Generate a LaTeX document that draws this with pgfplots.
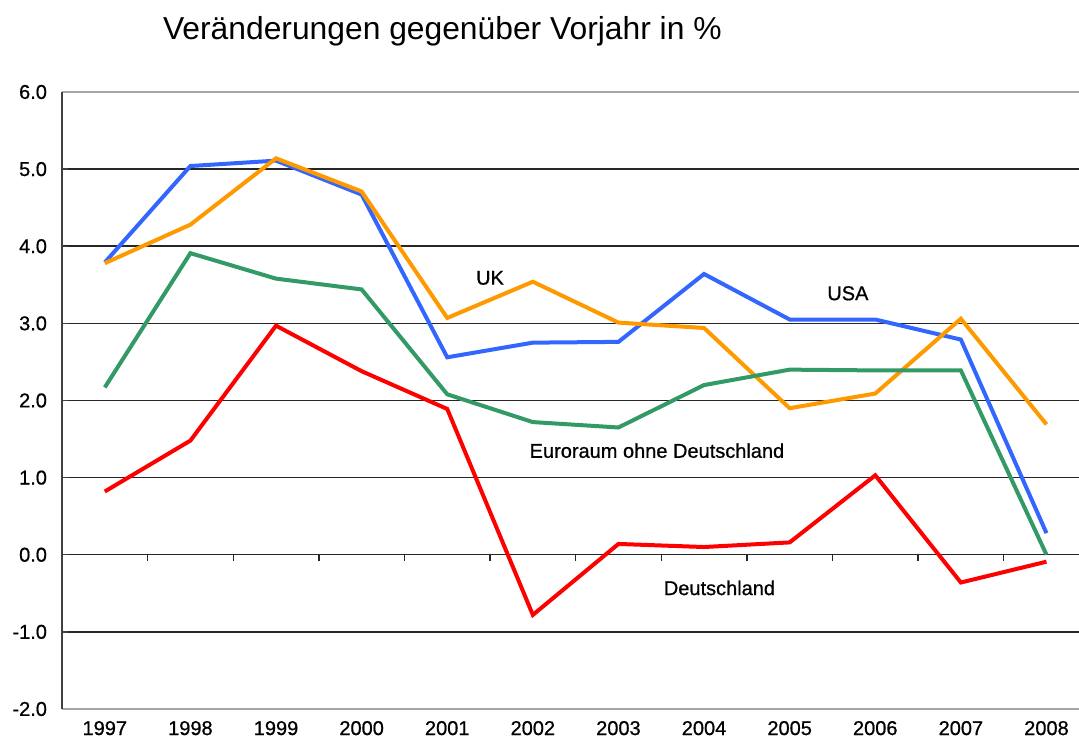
\documentclass[border=0pt]{standalone}
\usepackage{fontspec}
\setmainfont{Liberation Sans}
\newfontfamily\lblfont[FakeBold=0.7]{Liberation Sans}
\usepackage{pgfplots}
\pgfplotsset{compat=1.18}

\definecolor{cUSA}{RGB}{51,102,255}
\definecolor{cUK}{RGB}{255,153,0}
\definecolor{cEuro}{RGB}{51,153,102}
\definecolor{cDE}{RGB}{255,0,0}

\begin{document}
\begin{tikzpicture}
\begin{axis}[
	scale only axis,width=508.5pt,height=308.5pt,
	xmin=-0.5,xmax=11.38,ymin=-2,ymax=6,
	xtick={0,...,11},
	xticklabels={1997,1998,1999,2000,2001,2002,2003,2004,2005,2006,2007,2008},
	ytick={-2,-1,0,1,2,3,4,5,6},
	yticklabels={-2.0,-1.0,0.0,1.0,2.0,3.0,4.0,5.0,6.0},
	ymajorgrids,grid style={black!85,line width=0.75pt},
	axis line style={draw=none},
	x tick style={draw=none},
	y tick style={black!75,line width=0.7pt},
	major tick length=3pt,
	ytick pos=left,xtick pos=bottom,
	tick label style={font=\lblfont\fontsize{10}{12}\selectfont},
	xticklabel style={yshift=-2.5pt},
	yticklabel style={xshift=-4pt},
	clip=false]
\addplot[cUSA,line width=2pt] coordinates {(0,3.79) (1,5.04) (2,5.11) (3,4.67) (4,2.56) (5,2.75) (6,2.76) (7,3.64) (8,3.05) (9,3.05) (10,2.79) (11,0.28)};
\addplot[cUK,line width=2pt] coordinates {(0,3.78) (1,4.28) (2,5.14) (3,4.71) (4,3.07) (5,3.54) (6,3.01) (7,2.94) (8,1.90) (9,2.09) (10,3.06) (11,1.69)};
\addplot[cEuro,line width=2pt] coordinates {(0,2.17) (1,3.91) (2,3.58) (3,3.44) (4,2.08) (5,1.72) (6,1.65) (7,2.20) (8,2.40) (9,2.39) (10,2.39) (11,0.00)};
\addplot[cDE,line width=2pt] coordinates {(0,0.82) (1,1.48) (2,2.97) (3,2.38) (4,1.89) (5,-0.78) (6,0.14) (7,0.10) (8,0.16) (9,1.03) (10,-0.36) (11,-0.09)};
% plot frame and category ticks on the zero line
\draw[black!35,line width=0.9pt] (rel axis cs:0,1) -- (rel axis cs:1,1);
\draw[black!35,line width=0.9pt] (rel axis cs:0,0) -- (rel axis cs:1,0);
\draw[black!75,line width=0.8pt] (rel axis cs:0,0) -- (rel axis cs:0,1);
\pgfplotsinvokeforeach{0.5,1.5,2.5,3.5,4.5,5.5,6.5,7.5,8.5,9.5,10.5}{
	\draw[black!85,line width=0.7pt] (axis cs:#1,0) -- ++(0pt,-3pt);
}
\node[font=\lblfont\fontsize{10}{12}\selectfont] at (axis cs:4.50,3.59) {UK};
\node[font=\lblfont\fontsize{10}{12}\selectfont] at (axis cs:8.68,3.39) {USA};
\node[font=\lblfont\fontsize{10}{12}\selectfont] at (axis cs:6.45,1.35) {Euroraum ohne Deutschland};
\node[font=\lblfont\fontsize{10}{12}\selectfont] at (axis cs:7.18,-0.43) {Deutschland};
\node[anchor=base,yshift=26pt,font=\fontsize{15.9}{19}\selectfont] at (rel axis cs:0.374,1) {Veränderungen gegenüber Vorjahr in \%};
\end{axis}
\pgfresetboundingbox
\path (-31pt,-19pt) rectangle (508.5pt,354.5pt);
\end{tikzpicture}
\end{document}
